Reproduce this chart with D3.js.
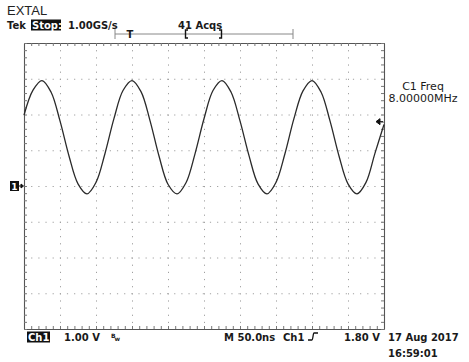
<!DOCTYPE html>
<html>
<head>
<meta charset="utf-8">
<script src="https://cdn.jsdelivr.net/npm/d3@7"></script>
<style>
  body { margin: 0; background: #fff; }
  text { font-family: "DejaVu Sans", sans-serif; fill: #1a1a1a; }
</style>
</head>
<body>
<div id="sandbox"></div>
<script>
// Chart size
const width = 469;
const height = 362;

// Scope settings
const voltsPerDiv = 1.0;
const nsPerDiv = 50.0;
const triggerLevel = 1.80;
const timeDomain = [-250, 250];   // 10 divisions
const voltDomain = [-4, 4];       // 8 divisions, ground at centre

// Ch1 samples, one every 12.5 ns starting at -250 ns (volts)
const sampleStepNs = 12.5;
const ch1Volts = [
  1.98, 2.68, 2.95, 2.63, 1.82, 0.84, 0.06, -0.22, 0.10, 0.91,
  1.89, 2.67, 2.95, 2.64, 1.83, 0.84, 0.05, -0.22, 0.09, 0.90,
  1.88, 2.67, 2.95, 2.63, 1.82, 0.85, 0.06, -0.22, 0.10, 0.91,
  1.89, 2.66, 2.95, 2.63, 1.82, 0.84, 0.06, -0.22, 0.10, 0.92,
  1.72
];

// Text labels
const titleLabel = "EXTAL";
const headerLabels = ["Tek", "Stop:", "1.00GS/s", "41 Acqs"];
const measureLabels = ["C1 Freq", "8.00000MHz"];
const footerLabels = ["Ch1", "1.00 V", "M 50.0ns", "Ch1", "1.80 V"];
const dateLabels = ["17 Aug 2017", "16:59:01"];

const plot = { left: 24, right: 384, top: 43, bottom: 329 };

const svg = d3.select("#sandbox")
    .append("svg")
    .attr("width", width)
    .attr("height", height);

const x = d3.scaleLinear().domain(timeDomain).range([plot.left, plot.right]);
const y = d3.scaleLinear().domain(voltDomain).range([plot.bottom, plot.top]);

const divTicksX = d3.range(timeDomain[0] + nsPerDiv, timeDomain[1], nsPerDiv);
const divTicksY = d3.range(voltDomain[0] + voltsPerDiv, voltDomain[1], voltsPerDiv);
const minorX = d3.range(timeDomain[0], timeDomain[1] + 0.1, nsPerDiv / 5);
const minorY = d3.range(voltDomain[0], voltDomain[1] + 0.01, voltsPerDiv / 5);

// Dotted graticule
const plotW = plot.right - plot.left;
const plotH = plot.bottom - plot.top;

svg.append("g")
    .attr("class", "grid")
    .attr("transform", `translate(0,${plot.top})`)
    .call(d3.axisBottom(x).tickValues(divTicksX).tickSize(plotH).tickFormat(""));
svg.append("g")
    .attr("class", "grid")
    .attr("transform", `translate(${plot.left},0)`)
    .call(d3.axisRight(y).tickValues(divTicksY).tickSize(plotW).tickFormat(""));
svg.selectAll(".grid .domain").remove();
svg.selectAll(".grid line")
    .attr("stroke", "#a0a0a0")
    .attr("stroke-width", 1)
    .attr("stroke-dasharray", "1.2,5.95");

// Frame with minor ticks pointing inwards
const frameAxes = [
  { axis: d3.axisBottom(x).tickValues(minorX), t: `translate(0,${plot.top})` },
  { axis: d3.axisTop(x).tickValues(minorX), t: `translate(0,${plot.bottom})` },
  { axis: d3.axisRight(y).tickValues(minorY), t: `translate(${plot.left},0)` },
  { axis: d3.axisLeft(y).tickValues(minorY), t: `translate(${plot.right},0)` }
];
frameAxes.forEach(f => {
  svg.append("g")
      .attr("class", "frame")
      .attr("transform", f.t)
      .call(f.axis.tickSize(3).tickSizeOuter(0).tickFormat(""));
});
svg.selectAll(".frame path").attr("stroke", "#555").attr("stroke-width", 1.1);
svg.selectAll(".frame line").attr("stroke", "#777");

// Waveform
const line = d3.line()
    .x((d, i) => x(timeDomain[0] + i * sampleStepNs))
    .y(d => y(d))
    .curve(d3.curveCatmullRom.alpha(0.5));

svg.append("path")
    .datum(ch1Volts)
    .attr("fill", "none")
    .attr("stroke", "#2a2a2a")
    .attr("stroke-width", 1.3)
    .attr("d", line);

// Ground marker "1 ->"
const gy = y(0);
svg.append("rect").attr("x", 10).attr("y", gy - 5).attr("width", 9).attr("height", 10).attr("fill", "#111");
svg.append("text").attr("x", 14.5).attr("y", gy + 4).attr("text-anchor", "middle")
    .style("fill", "#fff").style("font-size", "9px").style("font-weight", "bold").text("1");
svg.append("path")
    .attr("d", `M19,${gy} H22 M21,${gy - 2} L23.5,${gy} L21,${gy + 2} Z`)
    .attr("stroke", "#111").attr("fill", "#111").attr("stroke-width", 1);

// Trigger level arrow on the right edge
const ty = y(triggerLevel);
svg.append("path")
    .attr("d", `M${plot.right - 8},${ty} L${plot.right - 4},${ty - 3} L${plot.right - 4},${ty + 3} Z M${plot.right - 4},${ty} H${plot.right - 1}`)
    .attr("fill", "#111").attr("stroke", "#111").attr("stroke-width", 1);

// Title
svg.append("text").attr("x", 7).attr("y", 15)
    .style("font-family", "'Liberation Sans', Arial, sans-serif")
    .style("font-size", "13px").style("fill", "#222")
    .text(titleLabel);

// Header row
const hy = 29;
svg.append("text").attr("x", 7).attr("y", hy)
    .style("font-size", "10px").style("font-weight", "bold").text(headerLabels[0]);
svg.append("rect").attr("x", 31).attr("y", hy - 9.5).attr("width", 30).attr("height", 11).attr("fill", "#111");
svg.append("text").attr("x", 32).attr("y", hy)
    .style("font-size", "10px").style("font-weight", "bold").style("fill", "#fff").text(headerLabels[1]);
svg.append("text").attr("x", 68).attr("y", hy)
    .style("font-size", "10px").style("font-weight", "bold").text(headerLabels[2]);
svg.append("text").attr("x", 178).attr("y", hy)
    .style("font-size", "10px").style("font-weight", "bold").text(headerLabels[3]);

// Record-length bar with trigger point and visible window brackets
const barY = 34;
svg.append("path")
    .attr("d", `M115,${barY - 5} V${barY + 5} M115,${barY} H293 M293,${barY - 5} V${barY + 5}`)
    .attr("stroke", "#888").attr("fill", "none").attr("stroke-width", 1);
svg.append("path")
    .attr("d", `M188,${barY - 4} H185.5 V${barY + 4} H188 M219,${barY - 4} H221.5 V${barY + 4} H219`)
    .attr("stroke", "#111").attr("fill", "none").attr("stroke-width", 1.4);
svg.append("text").attr("x", 130).attr("y", barY + 4).attr("text-anchor", "middle")
    .style("font-size", "10px").style("font-weight", "bold").text("T");

// Measurement readout
svg.append("text").attr("x", 423).attr("y", 90).attr("text-anchor", "middle")
    .style("font-size", "11px").text(measureLabels[0]);
svg.append("text").attr("x", 423).attr("y", 102).attr("text-anchor", "middle")
    .style("font-size", "11px").text(measureLabels[1]);

// Footer row
const fy = 341;
svg.append("rect").attr("x", 27).attr("y", fy - 9.5).attr("width", 23).attr("height", 11).attr("fill", "#111");
svg.append("text").attr("x", 28).attr("y", fy)
    .style("font-size", "10px").style("font-weight", "bold").style("fill", "#fff").text(footerLabels[0]);
svg.append("text").attr("x", 64).attr("y", fy)
    .style("font-size", "10px").style("font-weight", "bold").text(footerLabels[1]);
// bandwidth-limit symbol
const bw = svg.append("text").attr("x", 111).attr("y", fy - 3)
    .style("font-size", "6px").style("font-weight", "bold");
bw.append("tspan").text("B");
bw.append("tspan").attr("dy", 3).attr("dx", -1).text("w");
svg.append("text").attr("x", 224).attr("y", fy)
    .style("font-size", "10px").style("font-weight", "bold").text(footerLabels[2]);
svg.append("text").attr("x", 283).attr("y", fy)
    .style("font-size", "10px").style("font-weight", "bold").text(footerLabels[3]);
svg.append("path")
    .attr("d", `M308,${fy - 1} H312 C313,${fy - 1} 313,${fy - 8} 314,${fy - 8} H318`)
    .attr("stroke", "#111").attr("fill", "none").attr("stroke-width", 1.3);
svg.append("text").attr("x", 344).attr("y", fy)
    .style("font-size", "10px").style("font-weight", "bold").text(footerLabels[4]);

// Date / time
svg.append("text").attr("x", 388).attr("y", 341)
    .style("font-size", "10px").style("font-weight", "bold").text(dateLabels[0]);
svg.append("text").attr("x", 388).attr("y", 357)
    .style("font-size", "10px").style("font-weight", "bold").text(dateLabels[1]);
</script>
</body>
</html>
